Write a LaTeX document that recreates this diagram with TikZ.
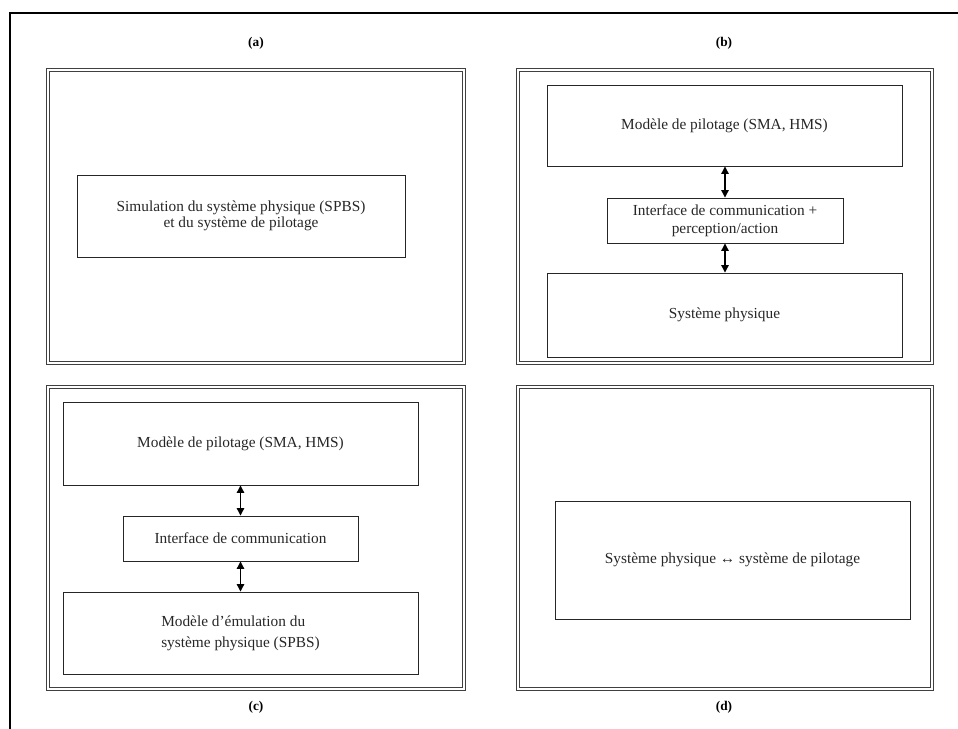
\documentclass[tikz,border=0pt]{standalone}
\usepackage{fontspec}
\setmainfont{Liberation Serif}
\usetikzlibrary{arrows.meta}
\begin{document}
\begin{tikzpicture}[x=0.75pt,y=-0.75pt,
  frameline/.style={line width=1.5pt,black},
  panel/.style={draw=black!75,line width=1.1pt,double=white,double distance=1.3pt},
  box/.style={draw=black!85,line width=0.7pt,inner sep=0pt,align=center,
    font=\fontsize{11.5}{13}\selectfont,text=black!85},
  lab/.style={font=\fontsize{10}{12}\selectfont\bfseries},
  link/.style={line width=0.9pt,{Triangle[length=5.5pt,width=5.5pt]}-{Triangle[length=5.5pt,width=5.5pt]}}]
\useasboundingbox (0,0) rectangle (958,729);
% outer frame (top and left)
\coordinate (ftl) at (10,13);
\coordinate (ftr) at (958,13);
\coordinate (fbl) at (10,729);
\draw[frameline] (ftr) -- (ftl) -- (fbl);
% panels
\draw[panel] (48,70) rectangle (464,363);
\draw[panel] (518,70) rectangle (932,363);
\draw[panel] (48,387) rectangle (464,689);
\draw[panel] (518,387) rectangle (932,689);
% labels
\node[lab] (la) at (256,43) {(a)};
\node[lab] (lb) at (724,43) {(b)};
\node[lab] (lc) at (256,707) {(c)};
\node[lab] (ld) at (724,707) {(d)};
% (a)
\node[box,minimum width=328*0.75pt,minimum height=82*0.75pt,font=\fontsize{11.5}{12}\selectfont] (a1) at (241,216)
  {Simulation du système physique (SPBS)\\et du système de pilotage};
% (b)
\node[box,minimum width=355*0.75pt,minimum height=81*0.75pt] (b1) at (724.5,125.5)
  {Modèle de pilotage (SMA, HMS)};
\node[box,minimum width=236*0.75pt,minimum height=45*0.75pt,font=\fontsize{11.5}{13.5}\selectfont] (b2) at (725,220.5)
  {Interface de communication +\\perception/action};
\node[box,minimum width=355*0.75pt,minimum height=84*0.75pt] (b3) at (724.5,315)
  {Système physique};
\draw[link] (b1.south -| b2.north) -- (b2.north);
\draw[link] (b2.south) -- (b3.north -| b2.south);
% (c)
\node[box,minimum width=355*0.75pt,minimum height=83*0.75pt] (c1) at (240.5,443.5)
  {Modèle de pilotage (SMA, HMS)};
\node[box,minimum width=235*0.75pt,minimum height=45*0.75pt] (c2) at (240.5,538.5)
  {Interface de communication};
\node[box,minimum width=355*0.75pt,minimum height=82*0.75pt,font=\fontsize{11.5}{16}\selectfont] (c3) at (240.5,633)
  {\begin{tabular}{@{}l@{}}Modèle d’émulation du\\système physique (SPBS)\end{tabular}};
\draw[link] (c1.south -| c2.north) -- (c2.north);
\draw[link] (c2.south) -- (c3.north -| c2.south);
% (d)
\node[box,minimum width=355*0.75pt,minimum height=118*0.75pt] (d1) at (732.5,560)
  {Système physique ↔ système de pilotage};
\end{tikzpicture}
\end{document}
